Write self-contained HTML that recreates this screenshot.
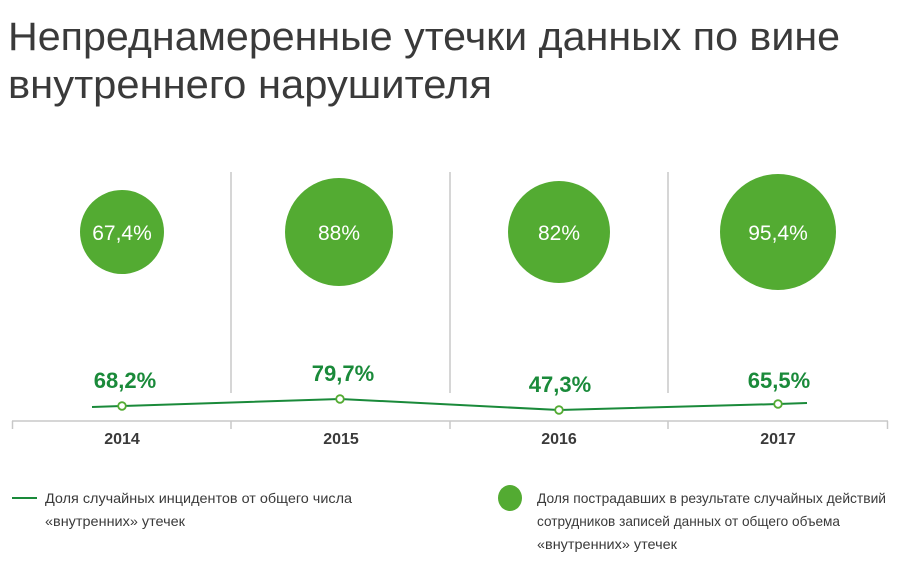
<!DOCTYPE html>
<html><head><meta charset="utf-8"><style>
body{margin:0;background:#fff;width:900px;height:558px;overflow:hidden;font-family:"Liberation Sans","DejaVu Sans",sans-serif;}
</style></head><body>
<svg width="900" height="558" xmlns="http://www.w3.org/2000/svg" font-family="Liberation Sans, DejaVu Sans, sans-serif">
<text x="8" y="50" font-size="40" fill="#3a3a3a" textLength="832" lengthAdjust="spacingAndGlyphs">Непреднамеренные утечки данных по вине</text>
<text x="8" y="98" font-size="40" fill="#3a3a3a" textLength="484" lengthAdjust="spacingAndGlyphs">внутреннего нарушителя</text>
<g stroke="#c8c8c8" stroke-width="1.5">
<line x1="231" y1="172" x2="231" y2="393"/>
<line x1="450" y1="172" x2="450" y2="393"/>
<line x1="668" y1="172" x2="668" y2="393"/>
<line x1="12" y1="421" x2="888" y2="421"/>
<line x1="12.5" y1="421" x2="12.5" y2="429"/>
<line x1="231" y1="421" x2="231" y2="429"/>
<line x1="450" y1="421" x2="450" y2="429"/>
<line x1="668" y1="421" x2="668" y2="429"/>
<line x1="887.5" y1="421" x2="887.5" y2="429"/>
</g>
<g fill="#53ab32">
<circle cx="122" cy="232" r="42"/>
<circle cx="339" cy="232" r="54"/>
<circle cx="559" cy="232" r="51"/>
<circle cx="778" cy="232" r="58"/>
</g>
<g fill="#fff" font-size="21" text-anchor="middle">
<text x="122" y="240">67,4%</text>
<text x="339" y="240">88%</text>
<text x="559" y="240">82%</text>
<text x="778" y="240">95,4%</text>
</g>
<g fill="#1a8a3a" font-size="22" font-weight="600" text-anchor="middle">
<text x="125" y="388">68,2%</text>
<text x="343" y="381">79,7%</text>
<text x="560" y="392">47,3%</text>
<text x="779" y="388">65,5%</text>
</g>
<polyline points="92,407 122,406 340,399 559,410 778,404 807,403" fill="none" stroke="#1a8a3a" stroke-width="2"/>
<g fill="#fff" stroke="#53ab32" stroke-width="1.8">
<circle cx="122" cy="406" r="3.8"/>
<circle cx="340" cy="399" r="3.8"/>
<circle cx="559" cy="410" r="3.8"/>
<circle cx="778" cy="404" r="3.8"/>
</g>
<g fill="#3a3a3a" font-size="16" font-weight="600" text-anchor="middle">
<text x="122" y="444">2014</text>
<text x="341" y="444">2015</text>
<text x="559" y="444">2016</text>
<text x="778" y="444">2017</text>
</g>
<line x1="12" y1="498" x2="37" y2="498" stroke="#1a8a3a" stroke-width="2"/>
<g fill="#3a3a3a" font-size="14">
<text x="45" y="503" textLength="307" lengthAdjust="spacingAndGlyphs">Доля случайных инцидентов от общего числа</text>
<text x="45" y="526" textLength="140" lengthAdjust="spacingAndGlyphs">«внутренних» утечек</text>
<text x="537" y="503" textLength="349" lengthAdjust="spacingAndGlyphs">Доля пострадавших в результате случайных действий</text>
<text x="537" y="526" textLength="303" lengthAdjust="spacingAndGlyphs">сотрудников записей данных от общего объема</text>
<text x="537" y="549" textLength="140" lengthAdjust="spacingAndGlyphs">«внутренних» утечек</text>
</g>
<ellipse cx="510" cy="498" rx="12" ry="13" fill="#53ab32"/>
</svg>
</body></html>
